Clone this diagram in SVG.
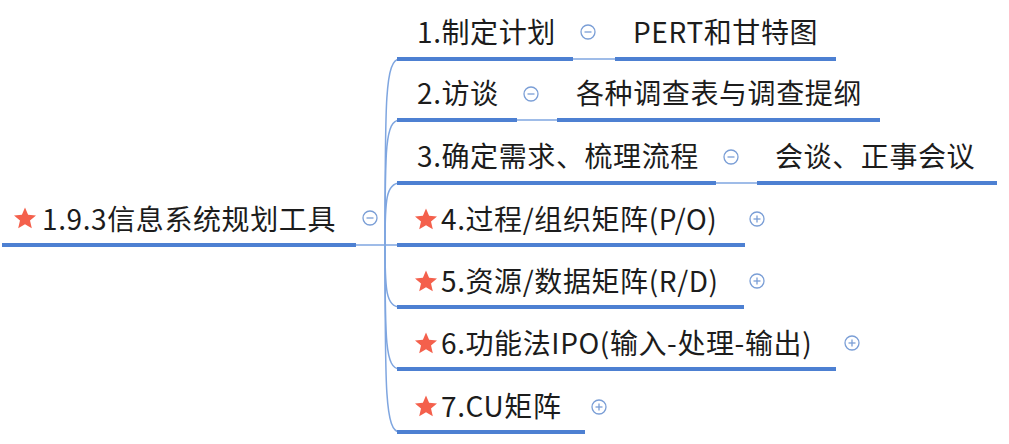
<svg xmlns="http://www.w3.org/2000/svg" width="1009" height="444" viewBox="0 0 1009 444">
<style>
text{font-family:"Noto Sans CJK SC","Noto Sans",sans-serif;font-size:28px;fill:#1c1c1c;letter-spacing:0.6px}
.ul{stroke:#4d80d2;stroke-width:4;stroke-linecap:butt;fill:none}
.thin{stroke:#7fa6e0;stroke-width:1.5;fill:none}
.star{fill:#f4604c}
.ic circle{fill:#fff;stroke:#7a9ed6;stroke-width:1.3}
.ic line{stroke:#7a9ed6;stroke-width:1.3}
</style>
<defs>
<polygon id="star" points="0,-11.5 3.1,-4.2 11,-3.6 5,1.6 6.8,9.3 0,5.2 -6.8,9.3 -5,1.6 -11,-3.6 -3.1,-4.2"/>
<g id="minus" class="ic"><circle r="7"/><line x1="-3.5" y1="0" x2="3.5" y2="0"/></g>
<g id="plus" class="ic"><circle r="7"/><line x1="-3.5" y1="0" x2="3.5" y2="0"/><line x1="0" y1="-3.5" x2="0" y2="3.5"/></g>
</defs>
<rect width="1009" height="444" fill="#fff"/>
<g id="connectors">
<line class="thin" x1="356" y1="245" x2="400" y2="245"/>
<path class="thin" d="M385 245 C385 100 385 59 400 59"/>
<path class="thin" d="M385 245 C385 150 385 120 400 120"/>
<path class="thin" d="M385 245 C385 200 386 183 400 183"/>
<path class="thin" d="M385 245 C385 290 386 307 400 307"/>
<path class="thin" d="M385 245 C385 340 385 369 400 369"/>
<path class="thin" d="M385 245 C385 390 385 432 400 432"/>
<line class="thin" x1="573" y1="59" x2="615" y2="59"/>
<line class="thin" x1="517" y1="120" x2="557" y2="120"/>
<line class="thin" x1="716" y1="183" x2="757" y2="183"/>
</g>
<g id="root">
<use href="#star" class="star" x="25" y="219"/>
<text x="42" y="230">1.9.3信息系统规划工具</text>
<line class="ul" x1="2" y1="245" x2="356" y2="245"/>
<use href="#minus" x="370" y="218"/>
</g>
<g id="n1">
<text x="417" y="43">1.制定计划</text>
<line class="ul" x1="397" y1="59" x2="573" y2="59"/>
<use href="#minus" x="588" y="32"/>
</g>
<g id="n1a">
<text x="633" y="43">PERT和甘特图</text>
<line class="ul" x1="615" y1="59" x2="836" y2="59"/>
</g>
<g id="n2">
<text x="417" y="104">2.访谈</text>
<line class="ul" x1="397" y1="120" x2="517" y2="120"/>
<use href="#minus" x="531" y="94"/>
</g>
<g id="n2a">
<text x="576" y="104">各种调查表与调查提纲</text>
<line class="ul" x1="557" y1="120" x2="880" y2="120"/>
</g>
<g id="n3">
<text x="417" y="167">3.确定需求、梳理流程</text>
<line class="ul" x1="397" y1="183" x2="716" y2="183"/>
<use href="#minus" x="731" y="157"/>
</g>
<g id="n3a">
<text x="775" y="167">会谈、正事会议</text>
<line class="ul" x1="757" y1="183" x2="997" y2="183"/>
</g>
<g id="n4">
<use href="#star" class="star" x="426" y="220"/>
<text x="441" y="230">4.过程/组织矩阵(P/O)</text>
<line class="ul" x1="397" y1="245" x2="745" y2="245"/>
<use href="#plus" x="757" y="219"/>
</g>
<g id="n5">
<use href="#star" class="star" x="426" y="282"/>
<text x="441" y="292">5.资源/数据矩阵(R/D)</text>
<line class="ul" x1="397" y1="307" x2="744" y2="307"/>
<use href="#plus" x="757" y="281"/>
</g>
<g id="n6">
<use href="#star" class="star" x="426" y="344"/>
<text x="441" y="354">6.功能法IPO(输入-处理-输出)</text>
<line class="ul" x1="397" y1="369" x2="836" y2="369"/>
<use href="#plus" x="852" y="343"/>
</g>
<g id="n7">
<use href="#star" class="star" x="426" y="407"/>
<text x="441" y="417">7.CU矩阵</text>
<line class="ul" x1="397" y1="432" x2="585" y2="432"/>
<use href="#plus" x="599" y="407"/>
</g>
</svg>
